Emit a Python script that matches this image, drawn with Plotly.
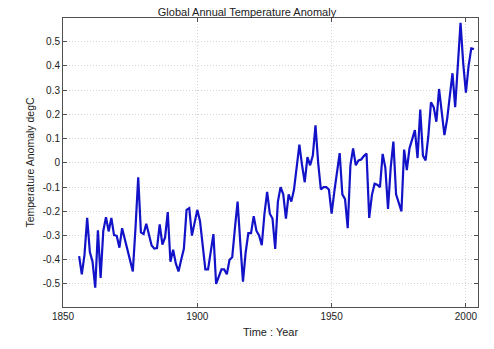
import plotly.graph_objects as go

years = list(range(1856, 2004))
anomaly = [
    -0.385, -0.46, -0.38, -0.227, -0.368, -0.408, -0.515, -0.278, -0.475, -0.281,  # 1856-1865
    -0.224, -0.283, -0.227, -0.298, -0.301, -0.35, -0.27, -0.314, -0.361, -0.408,  # 1866-1875
    -0.448, -0.267, -0.06, -0.287, -0.294, -0.251, -0.301, -0.341, -0.354, -0.352,  # 1876-1885
    -0.254, -0.337, -0.308, -0.203, -0.408, -0.359, -0.415, -0.448, -0.40, -0.355,  # 1886-1895
    -0.194, -0.187, -0.30, -0.24, -0.194, -0.24, -0.33, -0.44, -0.44, -0.37,  # 1896-1905
    -0.294, -0.50, -0.47, -0.44, -0.44, -0.46, -0.40, -0.39, -0.27, -0.16,  # 1906-1915
    -0.33, -0.49, -0.37, -0.29, -0.29, -0.22, -0.28, -0.30, -0.34, -0.21,  # 1916-1925
    -0.12, -0.21, -0.23, -0.355, -0.16, -0.10, -0.13, -0.23, -0.13, -0.16,  # 1926-1935
    -0.11, -0.02, 0.075, -0.01, -0.08, 0.024, -0.01, 0.03, 0.155, 0.0,  # 1936-1945
    -0.11, -0.10, -0.10, -0.11, -0.21, -0.12, -0.04, 0.04, -0.13, -0.15,  # 1946-1955
    -0.27, -0.01, 0.06, -0.01, 0.01, 0.014, 0.028, 0.038, -0.227, -0.133,  # 1956-1965
    -0.086, -0.09, -0.10, 0.037, -0.02, -0.19, -0.02, 0.088, -0.13, -0.17,  # 1966-1975
    -0.20, 0.055, -0.03, 0.06, 0.10, 0.135, 0.02, 0.22, 0.03, 0.01,  # 1976-1985
    0.11, 0.25, 0.23, 0.17, 0.305, 0.21, 0.115, 0.18, 0.28, 0.37,  # 1986-1995
    0.23, 0.40, 0.578, 0.41, 0.29, 0.40, 0.473, 0.47,  # 1996-2003
]

y_ticks = [-0.5, -0.4, -0.3, -0.2, -0.1, 0, 0.1, 0.2, 0.3, 0.4, 0.5]
y_labels = ["-0.5", "-0.4", "-0.3", "-0.2", "-0.1", "0", "0.1", "0.2", "0.3", "0.4", "0.5"]
x_ticks = [1850, 1900, 1950, 2000]

fig = go.Figure()
fig.add_trace(go.Scatter(x=years, y=anomaly, mode="lines",
                         line=dict(color="rgb(18,18,200)", width=2.2),
                         showlegend=False, hoverinfo="skip"))

axis_common = dict(
    showline=True, linecolor="#505050", linewidth=1, mirror="ticks",
    ticks="inside", ticklen=4, tickcolor="#505050",
    showgrid=True, gridcolor="#d4d4d4", griddash="1px,2px", gridwidth=1,
    zeroline=False,
    tickfont=dict(family="Liberation Sans, Arial", size=10, color="#222222"),
)

fig.update_layout(
    width=494, height=349,
    margin=dict(l=63, r=16, t=18, b=34),
    paper_bgcolor="white", plot_bgcolor="white",
    title=dict(text="Global Annual Temperature Anomaly", x=0.5, xanchor="center",
               y=0.965, yanchor="middle",
               font=dict(family="Liberation Sans, Arial", size=11, color="#222222")),
    xaxis=dict(range=[1850, 2004.5], tickvals=x_ticks,
               ticktext=[str(v) for v in x_ticks],
               title=dict(text="Time : Year", standoff=7,
                          font=dict(family="Liberation Sans, Arial", size=11, color="#222222")),
               **axis_common),
    yaxis=dict(range=[-0.595, 0.598], tickvals=y_ticks, ticktext=y_labels,
               title=dict(text="Temperature Anomaly degC", standoff=6,
                          font=dict(family="Liberation Sans, Arial", size=10.5, color="#222222")),
               **axis_common),
)

fig.write_html("out.html")
